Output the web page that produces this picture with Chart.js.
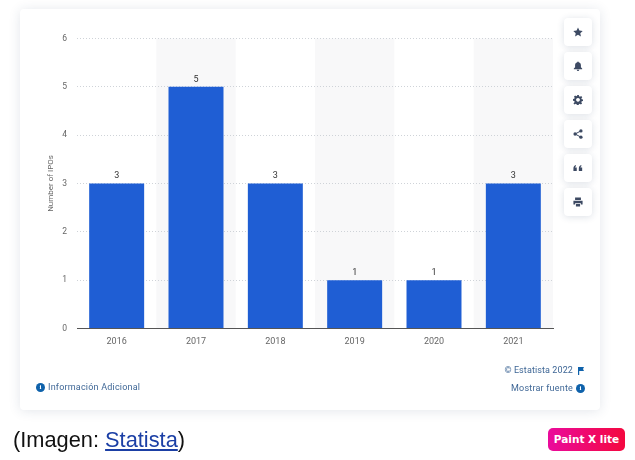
<!DOCTYPE html>
<html lang="es"><head><meta charset="utf-8">
<script src="https://cdn.jsdelivr.net/npm/chart.js@4"></script>
<style>
html,body{margin:0;padding:0;background:#fff;width:635px;height:460px;overflow:hidden;font-family:Roboto,sans-serif}
#card{position:absolute;left:20px;top:9px;width:580px;height:401px;background:#fff;border-radius:4px;box-shadow:0 1px 12px rgba(40,60,100,.13)}
canvas{position:absolute;left:0;top:0}
.btn{position:absolute;left:564px;width:28px;height:28px;background:#fff;border-radius:4px;box-shadow:0 1px 7px rgba(40,60,100,.16);display:flex;align-items:center;justify-content:center}
.btn svg{width:10px;height:10px;fill:#3d4a63}
.t{position:absolute;font-size:9px;line-height:11px;white-space:nowrap;color:#3f6796;letter-spacing:.2px}
.dot{position:absolute;width:9px;height:9px;border-radius:50%;background:#0f62ab;color:#fff;font:bold 7px/9px "Liberation Serif",serif;text-align:center}
#cap{position:absolute;left:13px;top:427px;font:21.8px/26px "Liberation Sans",sans-serif;color:#111;white-space:nowrap}
#cap a{color:#1b3fa5;text-decoration:underline}
#badge{position:absolute;left:548px;top:428px;width:77px;height:23px;border-radius:5px;background:linear-gradient(90deg,#ea0b9c,#f4083f);color:#fff;font:bold 10.5px/23px "DejaVu Sans",sans-serif;text-align:center;white-space:nowrap}
</style></head><body>
<div id="card"></div>
<canvas id="c" width="635" height="460"></canvas>
<div class="btn" style="top:18px"><svg viewBox="0 0 24 24"><path d="M12 1l3.4 7.3 7.9 1-5.8 5.5 1.5 7.9-7-3.9-7 3.9 1.5-7.9L.7 9.3l7.9-1z"/></svg></div>
<div class="btn" style="top:52px"><svg viewBox="0 0 24 24"><path d="M12 1c-1 0-1.700.8-1.700 1.700C6.800 3.500 5 6.500 5 10v5l-3 3v1.500h20V18l-3-3v-5c0-3.500-1.800-6.500-5.300-7.300C13.700 1.800 13 1 12 1zM9 21a3 3 0 0 0 6 0z"/></svg></div>
<div class="btn" style="top:86px"><svg viewBox="0 0 24 24"><path fill-rule="evenodd" d="M10 1h4l.6 3 2.300 1 2.600-1.700 2.800 2.800L20 8.700l1 2.300 3 .6v4l-3 .6-1 2.300 1.700 2.600-2.800 2.800-2.600-1.700-2.300 1-.6 3h-4l-.6-3-2.300-1-2.600 1.700-2.800-2.800L4 17.500 3 15.200l-3-.6v-4l3-.6 1-2.300-1.700-2.600 2.800-2.800L7.700 4 10 3zM12 8a4.500 4.500 0 1 0 .01 0z" transform="translate(0 -1)"/></svg></div>
<div class="btn" style="top:120px"><svg viewBox="0 0 24 24"><circle cx="19" cy="4.500" r="4"/><circle cx="5" cy="12" r="4"/><circle cx="19" cy="19.500" r="4"/><path d="M5 12L19 4.500M5 12l14 7.500" stroke="#3d4a63" stroke-width="2.400"/></svg></div>
<div class="btn" style="top:154px"><svg viewBox="0 0 24 24"><path d="M1 13c0-4 2-7 6-8v3c-1.500.5-2 1.500-2 3h4v8H1zM14 13c0-4 2-7 6-8v3c-1.500.5-2 1.500-2 3h4v8h-8z"/></svg></div>
<div class="btn" style="top:188px"><svg viewBox="0 0 24 24"><path d="M5 1h14v6H5zM1 9h22v9h-4v-3H5v3H1zM7 17h10v6H7z"/></svg></div>
<div class="dot" style="left:36px;top:383px">i</div>
<div class="t" style="left:48px;top:382px">Información Adicional</div>
<div class="t" style="right:62px;top:365px;letter-spacing:.1px">© Estatista 2022</div>
<svg style="position:absolute;left:578px;top:367px;width:7px;height:8px" viewBox="0 0 7 8"><path d="M0 0h6l-1 2 1 2H1.200v4H0z" fill="#0f62ab"/></svg>
<div class="t" style="right:62px;top:383px">Mostrar fuente</div>
<div class="dot" style="left:576px;top:384px">i</div>
<div id="cap">(Imagen: <a href="#">Statista</a>)</div>
<div id="badge">Paint X lite</div>
<script>
const categories = ['2016','2017','2018','2019','2020','2021'];
const ipos = [3,5,3,1,1,3];
const yTicks = [0,1,2,3,4,5,6];
const yTitle = 'Number of IPOs';

const bands = {id:'bands',beforeDraw(ch){
  const {ctx,chartArea:a,scales:{x}}=ch;
  const w=x.getPixelForValue(1)-x.getPixelForValue(0);
  ctx.save();ctx.fillStyle='#f8f8f9';
  categories.forEach((c,i)=>{if(i%2===1)ctx.fillRect(x.getPixelForValue(i)-w/2,a.top,w,a.bottom-a.top);});
  ctx.restore();
}};
const valueLabels = {id:'valueLabels',afterDatasetsDraw(ch){
  const {ctx}=ch;
  ctx.save();ctx.font='9px Roboto';ctx.fillStyle='#333';ctx.textAlign='center';ctx.textBaseline='bottom';
  ch.getDatasetMeta(0).data.forEach((b,i)=>ctx.fillText(String(ipos[i]),b.x,b.y-3));
  ctx.restore();
}};
new Chart(document.getElementById('c'),{
  type:'bar',
  data:{labels:categories,datasets:[{data:ipos,backgroundColor:'#1f5ed4',barPercentage:.693,categoryPercentage:1}]},
  plugins:[bands,valueLabels],
  options:{
    responsive:false,animation:false,devicePixelRatio:1,
    layout:{padding:{left:46,top:38.5,right:82,bottom:0}},
    plugins:{legend:{display:false},tooltip:{enabled:false}},
    scales:{
      x:{
        afterFit(s){s.height=131.5;},
        grid:{display:false},
        border:{color:'#555',width:1},
        ticks:{color:'#666',font:{size:9,family:'Roboto'},padding:0,maxRotation:0}
      },
      y:{
        min:0,max:6,
        afterFit(s){s.width=31;},
        afterBuildTicks(s){s.ticks=yTicks.map(v=>({value:v}));},
        grid:{color:'#cfd3d8',drawTicks:false,lineWidth:1},
        border:{display:false,dash:[1,2]},
        ticks:{color:'#666',font:{size:8.5,family:'Roboto'},padding:10},
        title:{display:true,text:yTitle,color:'#666',font:{size:8,family:'Roboto'},padding:0}
      }
    }
  }
});
</script>
</body></html>
